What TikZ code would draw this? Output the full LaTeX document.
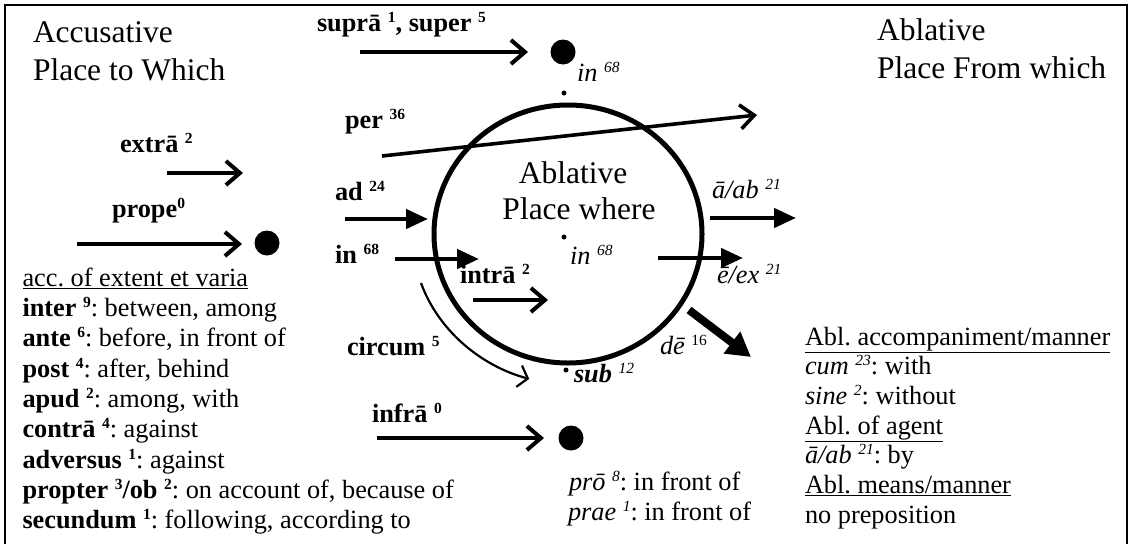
\documentclass[tikz,border=0pt]{standalone}
\usepackage{fontspec}
\setmainfont{Liberation Serif}
\usetikzlibrary{arrows.meta,shapes.geometric}
\frenchspacing
\newcommand{\spr}[1]{\raisebox{8.8pt}{\fontsize{15.5}{15.5}\selectfont #1}}
\begin{document}
\begin{tikzpicture}[x=1pt,y=-1pt,
  txt/.style={inner sep=0pt, outer sep=0pt, anchor=base west, font=\fontsize{26.3}{30}\selectfont},
  ctxt/.style={inner sep=0pt, outer sep=0pt, anchor=base, font=\fontsize{31.5}{38}\selectfont},
  head/.style={inner sep=0pt, outer sep=0pt, anchor=base west, font=\fontsize{31.5}{38}\selectfont},
  openarr/.style={line width=4pt, -{Straight Barb[length=14pt,width=24pt]}},
  thinarr/.style={line width=2.2pt, -{Straight Barb[length=9pt,width=22pt]}},
  fillarr/.style={line width=4.5pt, -{Triangle[length=22pt,width=19pt]}},
  bigarr/.style={line width=8pt, -{Triangle[length=24pt,width=26pt]}},
  bigdot/.style={circle, fill, inner sep=0pt, minimum size=25pt},
  smalldot/.style={circle, fill, inner sep=0pt, minimum size=5pt},
]
\useasboundingbox (0,0) rectangle (1132,544);
% frame (open at the bottom)
\coordinate (fbl) at (5,544);
\coordinate (ftl) at (5,5);
\coordinate (ftr) at (1127,5);
\coordinate (fbr) at (1127,544);
\draw[line width=2pt] (fbl) -- (ftl) -- (ftr) -- (fbr);

% headings
\node[head] (acc1) at (33,42) {Accusative};
\node[head] (acc2) at (33,80) {Place to Which};
\node[head] (abl1) at (877,40) {Ablative};
\node[head] (abl2) at (877,78) {Place From which};

% central circle
\node[draw, ellipse, line width=5pt, minimum width=268pt, minimum height=258pt, inner sep=0pt] (circ) at (568,234) {};
\node[ctxt] (cabl) at (573,183) {Ablative};
\node[ctxt] (cplace) at (579,219) {Place where};
\node[smalldot] (cdot) at (564,237) {};
\node[txt] (cin) at (570,264) {\itshape in \spr{68}};

% supra
\node[txt] (supral) at (317,31) {\bfseries suprā \spr{1}, super \spr{5}};
\coordinate (sa) at (360,52);
\coordinate (sb) at (528,52);
\node[bigdot] (sdot) at (563,52) {};
\draw[openarr] (sa) -- (sb);
\node[txt] (tin) at (577,81) {\itshape in \spr{68}};
\node[smalldot] (tdot) at (564,93) {};

% per
\node[txt] (perl) at (345,128) {\bfseries per \spr{36}};
\coordinate (pa) at (382,156);
\coordinate (pb) at (757,115);
\draw[openarr, line width=3.6pt] (pa) -- (pb);

% extra
\node[txt] (extral) at (120,152) {\bfseries extrā \spr{2}};
\coordinate (ea) at (167,173);
\coordinate (eb) at (243,173);
\draw[openarr] (ea) -- (eb);

% prope
\node[txt] (propel) at (112,217) {\bfseries prope\spr{0}};
\coordinate (pra) at (77,244);
\coordinate (prb) at (242,244);
\draw[openarr] (pra) -- (prb);
\node[bigdot] (prdot) at (267,243) {};

% ad
\node[txt] (adl) at (335,200) {\bfseries ad \spr{24}};
\coordinate (ada) at (345,219);
\coordinate (adb) at (428,219);
\draw[fillarr] (ada) -- (adb);

% a/ab
\node[txt] (aabl) at (712,198) {\itshape ā/ab \spr{21}};
\coordinate (aaa) at (710,218);
\coordinate (aab) at (796,218);
\draw[fillarr] (aaa) -- (aab);

% in
\node[txt] (inl) at (335,263) {\bfseries in \spr{68}};
\coordinate (ina) at (395,259);
\coordinate (inb) at (479,259);
\draw[fillarr] (ina) -- (inb);

% e/ex
\coordinate (exa) at (658,258);
\coordinate (exb) at (743,258);
\draw[fillarr] (exa) -- (exb);
\node[txt] (exl) at (717,283) {\itshape ē/ex \spr{21}};

% intra
\node[txt] (intral) at (460,283) {\bfseries intrā \spr{2}};
\coordinate (ita) at (473,300);
\coordinate (itb) at (548,300);
\draw[openarr] (ita) -- (itb);

% circum
\node[txt] (circuml) at (347,355) {\bfseries circum \spr{5}};
\coordinate (cua) at (421,283);
\coordinate (cub) at (529.2,378.9);
\draw[thinarr] (cua) .. controls (438,330) and (480.6,365.9) .. (cub);

% sub
\node[smalldot] (sdot2) at (566,370) {};
\node[txt] (subl) at (574,382) {\bfseries\itshape sub \spr{\mdseries 12}};

% de
\node[txt] (del) at (660,354) {\itshape dē \spr{\upshape 16}};
\coordinate (dea) at (689,310);
\coordinate (deb) at (751,357);
\draw[bigarr] (dea) -- (deb);

% infra
\node[txt] (infral) at (372,422) {\bfseries infrā \spr{0}};
\coordinate (ifa) at (377,438);
\coordinate (ifb) at (544,438);
\draw[openarr] (ifa) -- (ifb);
\node[bigdot] (ifdot) at (571,438) {};

% left list
\node[txt] (l0) at (22.5,286) {\underline{acc. of extent et varia}};
\node[txt] (l1) at (22.5,316.5) {\textbf{inter \spr{9}}: between, among};
\node[txt] (l2) at (22.5,346.5) {\textbf{ante \spr{6}}: before, in front of};
\node[txt] (l3) at (22.5,377) {\textbf{post \spr{4}}: after, behind};
\node[txt] (l4) at (22.5,407) {\textbf{apud \spr{2}}: among, with};
\node[txt] (l5) at (22.5,437.5) {\textbf{contrā \spr{4}}: against};
\node[txt] (l6) at (22.5,468) {\textbf{adversus \spr{1}}: against};
\node[txt] (l7) at (22.5,498) {\textbf{propter \spr{3}/ob \spr{2}}: on account of, because of};
\node[txt] (l8) at (22.5,528) {\textbf{secundum \spr{1}}: following, according to};

% middle list
\node[txt] (m1) at (569,490) {\textit{prō \spr{8}}: in front of};
\node[txt] (m2) at (568,520) {\textit{prae \spr{1}}: in front of};

% right list
\node[txt] (r1) at (805,345) {\underline{Abl. accompaniment/manner}};
\node[txt] (r2) at (805,374) {\textit{cum \spr{23}}: with};
\node[txt] (r3) at (805,404) {\textit{sine \spr{2}}: without};
\node[txt] (r4) at (805,434) {\underline{Abl. of agent}};
\node[txt] (r5) at (805,463) {\textit{ā/ab \spr{21}}: by};
\node[txt] (r6) at (805,493) {\underline{Abl. means/manner}};
\node[txt] (r7) at (805,523) {no preposition};
\end{tikzpicture}
\end{document}
